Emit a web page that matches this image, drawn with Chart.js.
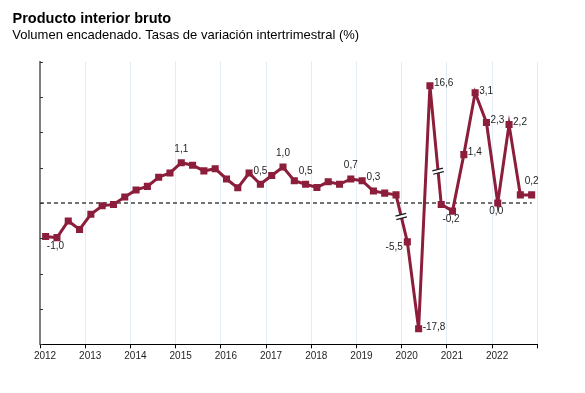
<!DOCTYPE html>
<html>
<head>
<meta charset="utf-8">
<script src="https://cdn.jsdelivr.net/npm/chart.js@4/dist/chart.umd.min.js"></script>
<style>
  html, body { margin: 0; padding: 0; background: #ffffff; }
  #wrap { width: 585px; height: 393px; position: relative; }
</style>
</head>
<body>
<div id="wrap"><canvas id="chart"></canvas></div>
<script>
// Title texts
const chartTitle = 'Producto interior bruto';
const chartSubtitle = 'Volumen encadenado. Tasas de variación intertrimestral (%)';

// Year labels on the x axis (one per four quarters)
const yearLabels = ['2012', '2013', '2014', '2015', '2016', '2017', '2018', '2019', '2020', '2021', '2022'];

// Quarterly growth rate, 2012 Q1 .. 2022 Q4
const gdpGrowth = [
  -0.95, -0.98, -0.51, -0.75,  // 2012
  -0.32, -0.08, -0.04, 0.17,   // 2013
  0.37, 0.47, 0.73, 0.85,      // 2014
  1.14, 1.07, 0.91, 0.97,      // 2015
  0.68, 0.43, 0.85, 0.53,      // 2016
  0.78, 1.02, 0.63, 0.53,      // 2017
  0.44, 0.60, 0.53, 0.68,      // 2018
  0.63, 0.34, 0.28, 0.23,      // 2019
  -5.5, -17.8, 16.6, -0.04,    // 2020
  -0.23, 1.37, 3.12, 2.28,     // 2021
  0.0, 2.22, 0.23, 0.23        // 2022
];

// Quarters drawn on the compressed (broken) part of the axis
const brokenQuarters = [32, 33, 34];
const breakCompression = 0.2;

// Quarters whose value is printed, and where the text goes
const labelledQuarters = [
  { i: 1, pos: 'below' }, { i: 12, pos: 'above' }, { i: 19, pos: 'above' },
  { i: 21, pos: 'above' }, { i: 23, pos: 'above' }, { i: 27, pos: 'above' },
  { i: 29, pos: 'above' }, { i: 32, pos: 'left' }, { i: 33, pos: 'right' },
  { i: 34, pos: 'right' }, { i: 36, pos: 'below' }, { i: 37, pos: 'right' },
  { i: 38, pos: 'right' }, { i: 39, pos: 'right' }, { i: 40, pos: 'below' },
  { i: 41, pos: 'right' }, { i: 43, pos: 'above' }
];

// Axis-break marks: segment start index and fraction along the segment
const axisBreaks = [
  { i: 31, t: 0.46 },
  { i: 34, t: 0.72 }
];

const FONT = "'Liberation Sans', Arial, sans-serif";
const LINE_COLOR = '#8c1d3b';
const TEXT_COLOR = '#1e1e1e';

const plotPoints = gdpGrowth.map((v, i) => ({
  x: i + 0.5,
  y: brokenQuarters.includes(i) ? v * breakCompression : v
}));

const formatValue = (v) => v.toFixed(1).replace('.', ',');

const decorations = {
  id: 'decorations',
  afterDraw(chart) {
    const { ctx, scales } = chart;
    const xs = scales.x;
    const ys = scales.y;

    // Title and subtitle
    ctx.save();
    ctx.fillStyle = '#000000';
    ctx.textAlign = 'left';
    ctx.textBaseline = 'alphabetic';
    ctx.font = `bold 14.5px ${FONT}`;
    ctx.fillText(chartTitle, 12.5, 22.7);
    ctx.font = `13px ${FONT}`;
    ctx.fillText(chartSubtitle, 12.3, 39);

    // Small inward ticks on the y axis
    ctx.strokeStyle = '#333333';
    ctx.lineWidth = 1;
    ys.ticks.forEach(t => {
      const y = Math.round(ys.getPixelForValue(t.value)) + 0.5;
      ctx.beginPath();
      ctx.moveTo(xs.left, y);
      ctx.lineTo(xs.left + 3, y);
      ctx.stroke();
    });

    // Axis-break marks
    axisBreaks.forEach(b => {
      const p0 = plotPoints[b.i];
      const p1 = plotPoints[b.i + 1];
      const x0 = xs.getPixelForValue(p0.x), y0 = ys.getPixelForValue(p0.y);
      const x1 = xs.getPixelForValue(p1.x), y1 = ys.getPixelForValue(p1.y);
      const cx = x0 + (x1 - x0) * b.t;
      const cy = y0 + (y1 - y0) * b.t;
      ctx.save();
      ctx.translate(cx, cy);
      ctx.rotate(-0.25);
      ctx.fillStyle = '#ffffff';
      ctx.fillRect(-5.5, -1.8, 11, 3.6);
      ctx.strokeStyle = '#1a1a1a';
      ctx.lineWidth = 1.2;
      ctx.beginPath();
      ctx.moveTo(-5.5, -1.8); ctx.lineTo(5.5, -1.8);
      ctx.moveTo(-5.5, 1.8); ctx.lineTo(5.5, 1.8);
      ctx.stroke();
      ctx.restore();
    });

    // Value labels
    ctx.font = `10px ${FONT}`;
    ctx.fillStyle = TEXT_COLOR;
    ctx.textBaseline = 'middle';
    labelledQuarters.forEach(l => {
      const p = plotPoints[l.i];
      const px = xs.getPixelForValue(p.x);
      const py = ys.getPixelForValue(p.y);
      const txt = formatValue(gdpGrowth[l.i]);
      if (l.pos === 'above') {
        ctx.textAlign = 'center';
        ctx.fillText(txt, px, py - 13.5);
      } else if (l.pos === 'below') {
        ctx.textAlign = 'center';
        ctx.fillText(txt, px - 1.5, py + 8.5);
      } else if (l.pos === 'right') {
        ctx.textAlign = 'left';
        ctx.fillText(txt, px + 4, py - 2);
      } else {
        ctx.textAlign = 'right';
        ctx.fillText(txt, px - 4.5, py + 5);
      }
    });
    ctx.restore();
  }
};

new Chart(document.getElementById('chart'), {
  type: 'line',
  data: {
    datasets: [
      {
        label: 'PIB',
        data: plotPoints,
        borderColor: LINE_COLOR,
        backgroundColor: LINE_COLOR,
        borderWidth: 3,
        pointStyle: 'rect',
        pointRadius: 5,
        pointBorderWidth: 0,
        tension: 0
      },
      {
        label: 'cero',
        data: [{ x: 0, y: 0 }, { x: 43.5, y: 0 }],
        borderColor: '#444444',
        borderWidth: 1.5,
        borderDash: [4, 3],
        pointRadius: 0
      }
    ]
  },
  options: {
    responsive: true,
    maintainAspectRatio: false,
    animation: false,
    layout: { padding: { left: 40, right: 47.7, top: 61.7, bottom: 28.7 } },
    plugins: {
      legend: { display: false },
      tooltip: { enabled: false },
      title: { display: false }
    },
    scales: {
      x: {
        type: 'linear',
        min: 0,
        max: 44,
        afterFit: (scale) => { scale.height = 20; },
        afterBuildTicks: (scale) => {
          scale.ticks = yearLabels.map((_, k) => ({ value: k * 4 })).concat([{ value: 44 }]);
        },
        ticks: {
          autoSkip: false,
          maxRotation: 0,
          labelOffset: 5,
          padding: 1.5,
          color: TEXT_COLOR,
          font: { family: FONT, size: 10 },
          callback: (value) => yearLabels[value / 4] || ''
        },
        grid: {
          color: '#e4ecf7',
          lineWidth: 1,
          tickLength: 4,
          tickColor: '#000000',
          drawOnChartArea: true
        },
        border: { display: true, color: '#000000', width: 1 }
      },
      y: {
        type: 'linear',
        min: -4,
        max: 4,
        afterFit: (scale) => { scale.width = 0; },
        ticks: { display: false, stepSize: 1 },
        grid: { display: false },
        border: { display: true, color: '#7f7f7f', width: 2 }
      }
    }
  },
  plugins: [decorations]
});
</script>
</body>
</html>
